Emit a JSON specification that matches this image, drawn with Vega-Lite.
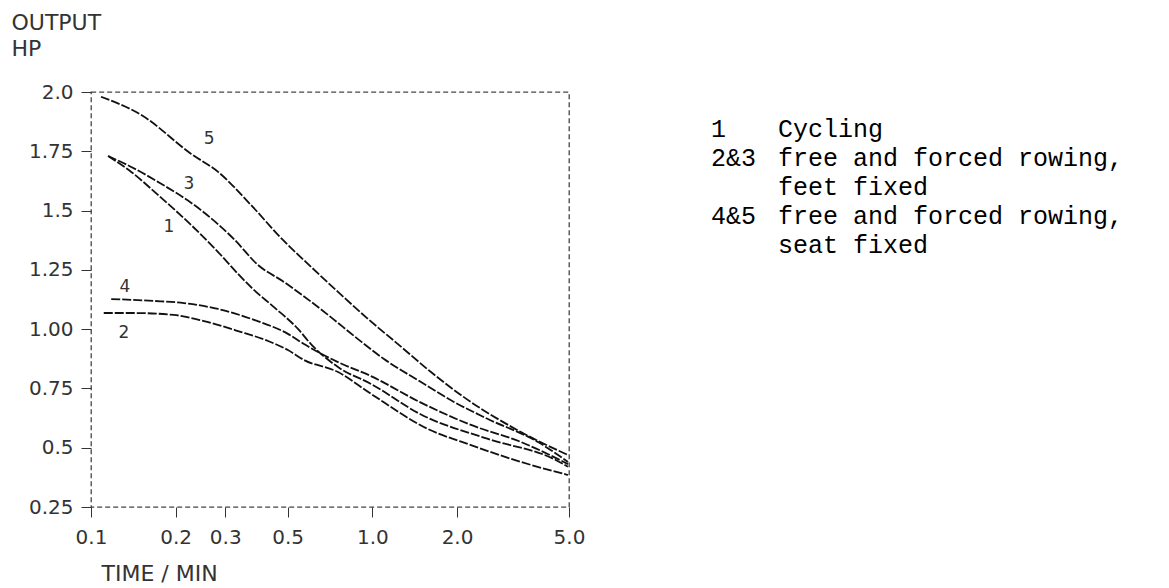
{
  "$schema": "https://vega.github.io/schema/vega-lite/v6.json",
  "padding": {"left": 10, "top": 10, "right": 0, "bottom": 0},
  "spacing": 0,
  "background": "white",
  "config": {
    "view": {"stroke": "#444", "strokeWidth": 1.3, "strokeDash": [5, 3]},
    "font": "DejaVu Sans"
  },
  "datasets": {
    "curves": [
      {"curve": "5", "t": 0.1085, "hp": 1.98},
      {"curve": "5", "t": 0.151, "hp": 1.903},
      {"curve": "5", "t": 0.227, "hp": 1.739},
      {"curve": "5", "t": 0.283, "hp": 1.663},
      {"curve": "5", "t": 0.37, "hp": 1.524},
      {"curve": "5", "t": 0.481, "hp": 1.376},
      {"curve": "5", "t": 0.595, "hp": 1.271},
      {"curve": "5", "t": 0.755, "hp": 1.157},
      {"curve": "5", "t": 0.965, "hp": 1.043},
      {"curve": "5", "t": 1.233, "hp": 0.937},
      {"curve": "5", "t": 1.616, "hp": 0.819},
      {"curve": "5", "t": 2.065, "hp": 0.722},
      {"curve": "5", "t": 3.375, "hp": 0.566},
      {"curve": "5", "t": 4.96, "hp": 0.469},
      {"curve": "3", "t": 0.115, "hp": 1.73},
      {"curve": "3", "t": 0.139, "hp": 1.684},
      {"curve": "3", "t": 0.173, "hp": 1.621},
      {"curve": "3", "t": 0.246, "hp": 1.502},
      {"curve": "3", "t": 0.322, "hp": 1.38},
      {"curve": "3", "t": 0.392, "hp": 1.271},
      {"curve": "3", "t": 0.485, "hp": 1.199},
      {"curve": "3", "t": 0.696, "hp": 1.06},
      {"curve": "3", "t": 0.889, "hp": 0.958},
      {"curve": "3", "t": 1.1, "hp": 0.874},
      {"curve": "3", "t": 1.489, "hp": 0.777},
      {"curve": "3", "t": 1.95, "hp": 0.693},
      {"curve": "3", "t": 2.576, "hp": 0.621},
      {"curve": "3", "t": 3.879, "hp": 0.524},
      {"curve": "3", "t": 4.96, "hp": 0.44},
      {"curve": "1", "t": 0.115, "hp": 1.73},
      {"curve": "1", "t": 0.139, "hp": 1.663},
      {"curve": "1", "t": 0.173, "hp": 1.566},
      {"curve": "1", "t": 0.227, "hp": 1.439},
      {"curve": "1", "t": 0.283, "hp": 1.325},
      {"curve": "1", "t": 0.333, "hp": 1.233},
      {"curve": "1", "t": 0.3765, "hp": 1.169},
      {"curve": "1", "t": 0.447, "hp": 1.093},
      {"curve": "1", "t": 0.544, "hp": 1.001},
      {"curve": "1", "t": 0.605, "hp": 0.937},
      {"curve": "1", "t": 0.755, "hp": 0.84},
      {"curve": "1", "t": 0.989, "hp": 0.769},
      {"curve": "1", "t": 1.489, "hp": 0.64},
      {"curve": "1", "t": 2.576, "hp": 0.537},
      {"curve": "1", "t": 4.42, "hp": 0.452},
      {"curve": "1", "t": 4.96, "hp": 0.42},
      {"curve": "4", "t": 0.118, "hp": 1.127},
      {"curve": "4", "t": 0.1675, "hp": 1.119},
      {"curve": "4", "t": 0.214, "hp": 1.11},
      {"curve": "4", "t": 0.283, "hp": 1.085},
      {"curve": "4", "t": 0.38, "hp": 1.039},
      {"curve": "4", "t": 0.501, "hp": 0.98},
      {"curve": "4", "t": 0.5715, "hp": 0.937},
      {"curve": "4", "t": 0.755, "hp": 0.861},
      {"curve": "4", "t": 0.989, "hp": 0.802},
      {"curve": "4", "t": 1.489, "hp": 0.69},
      {"curve": "4", "t": 2.242, "hp": 0.596},
      {"curve": "4", "t": 3.375, "hp": 0.524},
      {"curve": "4", "t": 4.96, "hp": 0.431},
      {"curve": "2", "t": 0.111, "hp": 1.068},
      {"curve": "2", "t": 0.142, "hp": 1.068},
      {"curve": "2", "t": 0.197, "hp": 1.06},
      {"curve": "2", "t": 0.252, "hp": 1.034},
      {"curve": "2", "t": 0.333, "hp": 0.992},
      {"curve": "2", "t": 0.426, "hp": 0.95},
      {"curve": "2", "t": 0.501, "hp": 0.912},
      {"curve": "2", "t": 0.5715, "hp": 0.87},
      {"curve": "2", "t": 0.755, "hp": 0.819},
      {"curve": "2", "t": 0.989, "hp": 0.727},
      {"curve": "2", "t": 1.5765, "hp": 0.579},
      {"curve": "2", "t": 2.242, "hp": 0.511},
      {"curve": "2", "t": 3.375, "hp": 0.44},
      {"curve": "2", "t": 4.96, "hp": 0.385}
    ],
    "labels": [
      {"label": "5", "t": 0.263, "hp": 1.8},
      {"label": "3", "t": 0.223, "hp": 1.61},
      {"label": "1", "t": 0.189, "hp": 1.43},
      {"label": "4", "t": 0.132, "hp": 1.178},
      {"label": "2", "t": 0.131, "hp": 0.984}
    ],
    "legend": [
      {"row": 0, "col": 0, "text": "1"},
      {"row": 0, "col": 4, "text": "Cycling"},
      {"row": 1, "col": 0, "text": "2&3"},
      {"row": 1, "col": 4, "text": "free and forced rowing,"},
      {"row": 2, "col": 4, "text": "feet fixed"},
      {"row": 3, "col": 0, "text": "4&5"},
      {"row": 3, "col": 4, "text": "free and forced rowing,"},
      {"row": 4, "col": 4, "text": "seat fixed"}
    ]
  },
  "hconcat": [
    {
      "width": 478,
      "height": 415,
      "encoding": {
        "x": {
          "field": "t",
          "type": "quantitative",
          "scale": {"type": "log", "domain": [0.1, 5], "nice": false},
          "axis": {
            "values": [0.1, 0.2, 0.3, 0.5, 1, 2, 5],
            "labelExpr": "format(datum.value, '.1f')",
            "grid": false,
            "domain": false,
            "tickSize": 10,
            "tickColor": "#333",
            "labelFontSize": 20,
            "labelColor": "#333",
            "labelPadding": 10,
            "labelFlush": false,
            "labelOverlap": false,
            "title": "TIME / MIN",
            "titleFontSize": 22,
            "titleFontWeight": "normal",
            "titleColor": "#333",
            "titleX": 10,
            "titleY": 56,
            "titleAlign": "left",
            "titleBaseline": "top"
          }
        },
        "y": {
          "field": "hp",
          "type": "quantitative",
          "scale": {"domain": [0.25, 2], "nice": false, "zero": false},
          "axis": {
            "values": [0.25, 0.5, 0.75, 1, 1.25, 1.5, 1.75, 2],
            "labelExpr": "datum.value == 1 ? '1.00' : datum.value == 2 ? '2.0' : format(datum.value, '~g')",
            "grid": false,
            "domain": false,
            "tickSize": 10,
            "tickColor": "#333",
            "labelFontSize": 20,
            "labelColor": "#333",
            "labelPadding": 8,
            "labelFlush": false,
            "labelOverlap": false,
            "title": ["OUTPUT", "HP"],
            "titleAngle": 0,
            "titleFontSize": 22,
            "titleLineHeight": 26,
            "titleFontWeight": "normal",
            "titleColor": "#333",
            "titleX": -80,
            "titleY": -80,
            "titleAlign": "left",
            "titleBaseline": "top"
          }
        }
      },
      "layer": [
        {
          "data": {"name": "curves"},
          "mark": {"type": "line", "interpolate": "monotone", "color": "#111", "strokeWidth": 1.8, "strokeDash": [9, 2]},
          "encoding": {"detail": {"field": "curve", "type": "nominal"}}
        },
        {
          "data": {"name": "labels"},
          "mark": {"type": "text", "fontSize": 17, "color": "#333"},
          "encoding": {"text": {"field": "label", "type": "nominal"}}
        }
      ]
    },
    {
      "width": 560,
      "height": 415,
      "view": {"stroke": null},
      "data": {"name": "legend"},
      "mark": {"type": "text", "align": "left", "baseline": "middle", "font": "Liberation Mono", "fontSize": 25, "color": "#000"},
      "encoding": {
        "x": {"field": "col", "type": "quantitative", "scale": {"domain": [-7.46, 25.97], "nice": false, "zero": false}, "axis": null},
        "y": {"field": "row", "type": "quantitative", "scale": {"domain": [-1.276, 13.03], "reverse": true, "nice": false, "zero": false}, "axis": null},
        "text": {"field": "text", "type": "nominal"}
      }
    }
  ]
}
